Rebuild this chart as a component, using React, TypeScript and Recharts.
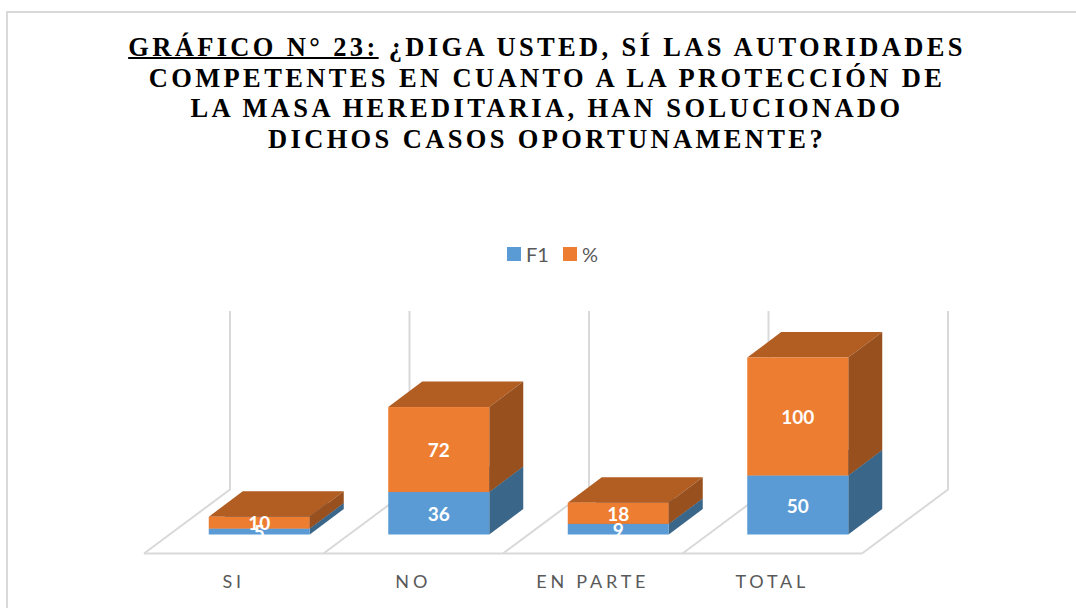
import React from "react";
import { BarChart, Bar, XAxis, YAxis, CartesianGrid, Legend, LabelList } from "recharts";

const categories = ["SI", "NO", "EN PARTE", "TOTAL"];
const f1Values = [5, 36, 9, 50];
const pctValues = [10, 72, 18, 100];
const data = categories.map((c, i) => ({ c, F1: f1Values[i], pct: pctValues[i] }));

const W = 1076;
const H = 608;
const GRID = "#d9d9d9";
const TEXT = "#595959";
const BLUE = { front: "#5b9bd5", side: "#3a6689", top: "#437aab" };
const ORANGE = { front: "#ed7d31", side: "#98501f", top: "#b25d22" };

// Oblique projection used to imitate the 3-D look
const BAR_DX = 25.75;
const BAR_DY = -19;
const DEPTH_X = 34;
const DEPTH_Y = -25.5;
const FLOOR_X = 86;
const FLOOR_Y = -64;

const Box3D = (colors: typeof BLUE) => (p: any) => {
  const x = p.x + BAR_DX;
  const y = p.y + BAR_DY;
  const w = p.width;
  const h = p.height;
  return (
    <g>
      <polygon
        points={`${x},${y} ${x + DEPTH_X},${y + DEPTH_Y} ${x + w + DEPTH_X},${y + DEPTH_Y} ${x + w},${y}`}
        fill={colors.top}
      />
      <polygon
        points={`${x + w},${y} ${x + w + DEPTH_X},${y + DEPTH_Y} ${x + w + DEPTH_X},${y + h + DEPTH_Y} ${x + w},${y + h}`}
        fill={colors.side}
      />
      <rect x={x} y={y} width={w} height={h} fill={colors.front} />
    </g>
  );
};

const valueLabel = (p: any) => (
  <text
    x={p.x + p.width / 2 + BAR_DX}
    y={p.y + p.height / 2 + BAR_DY}
    textAnchor="middle"
    dominantBaseline="central"
    fill="#ffffff"
    fontFamily="Lato, sans-serif"
    fontWeight={700}
    fontSize={19}
  >
    {p.value}
  </text>
);

const wallLine = (p: any) => (
  <polyline
    key={p.key ?? p.x1}
    points={`${p.x1},${p.y2} ${p.x1 + FLOOR_X},${p.y2 + FLOOR_Y} ${p.x1 + FLOOR_X},${p.y1 + FLOOR_Y - 1.5}`}
    fill="none"
    stroke={GRID}
    strokeWidth={2}
  />
);

const legendContent = () => (
  <div
    style={{
      display: "flex",
      alignItems: "center",
      fontFamily: "Lato, sans-serif",
      fontSize: 20,
      color: TEXT,
      height: 24,
    }}
  >
    <span style={{ width: 14, height: 14, background: BLUE.front, marginRight: 5 }} />
    <span style={{ width: 37 }}>F1</span>
    <span style={{ width: 14, height: 14, background: ORANGE.front, marginRight: 5 }} />
    <span>%</span>
  </div>
);

const titleLines = [
  "¿DIGA USTED, SÍ LAS AUTORIDADES",
  "COMPETENTES EN CUANTO A LA PROTECCIÓN DE",
  "LA MASA HEREDITARIA, HAN SOLUCIONADO",
  "DICHOS CASOS OPORTUNAMENTE?",
];
const titlePrefix = "GRÁFICO N° 23:";

export default function App() {
  return (
    <div style={{ position: "absolute", left: 0, top: 0, width: W, height: H, overflow: "hidden", background: "#fff" }}>
      <div
        style={{
          position: "absolute",
          left: 6,
          top: 11,
          width: W,
          height: H,
          borderLeft: `2px solid ${GRID}`,
          borderTop: `2px solid ${GRID}`,
        }}
      />
      <div
        style={{
          position: "absolute",
          left: 47,
          top: 32,
          width: 1000,
          textAlign: "center",
          fontFamily: "'Liberation Serif', serif",
          fontWeight: 700,
          fontSize: 26.5,
          lineHeight: "30.7px",
          letterSpacing: 3.36,
          color: "#000",
          whiteSpace: "nowrap",
        }}
      >
        {titleLines.map((line, i) => (
          <div key={line}>
            {i === 0 ? (
              <>
                <span style={{ textDecoration: "underline", textDecorationThickness: 2 }}>{titlePrefix}</span> {line}
              </>
            ) : (
              line
            )}
          </div>
        ))}
      </div>
      <div style={{ position: "absolute", left: 0, top: 0 }}>
        <BarChart
          width={W}
          height={H}
          data={data}
          barSize={101}
          margin={{ left: 144, right: 214, top: 376.5, bottom: 14.5 }}
        >
          <CartesianGrid
            horizontal={false}
            vertical={wallLine as any}
            verticalCoordinatesGenerator={({ offset }: any) =>
              [0, 1, 2, 3, 4].map((i) => offset.left + (i * offset.width) / categories.length)
            }
          />
          <XAxis
            dataKey="c"
            height={40}
            axisLine={{ stroke: GRID, strokeWidth: 2 }}
            tickLine={false}
            tickMargin={16}
            interval={0}
            tick={{ fill: TEXT, fontSize: 18, fontFamily: "Lato, sans-serif", letterSpacing: 3.8 }}
          />
          <YAxis hide domain={[0, 150]} />
          <Legend
            layout="vertical"
            align="center"
            verticalAlign="middle"
            content={legendContent}
            wrapperStyle={{ position: "absolute", left: 507, top: 242, width: 110, height: 24 }}
          />
          <Bar dataKey="F1" name="F1" stackId="a" fill={BLUE.front} shape={Box3D(BLUE)} isAnimationActive={false}>
            <LabelList dataKey="F1" content={valueLabel} />
          </Bar>
          <Bar dataKey="pct" name="%" stackId="a" fill={ORANGE.front} shape={Box3D(ORANGE)} isAnimationActive={false}>
            <LabelList dataKey="pct" content={valueLabel} />
          </Bar>
        </BarChart>
      </div>
    </div>
  );
}
